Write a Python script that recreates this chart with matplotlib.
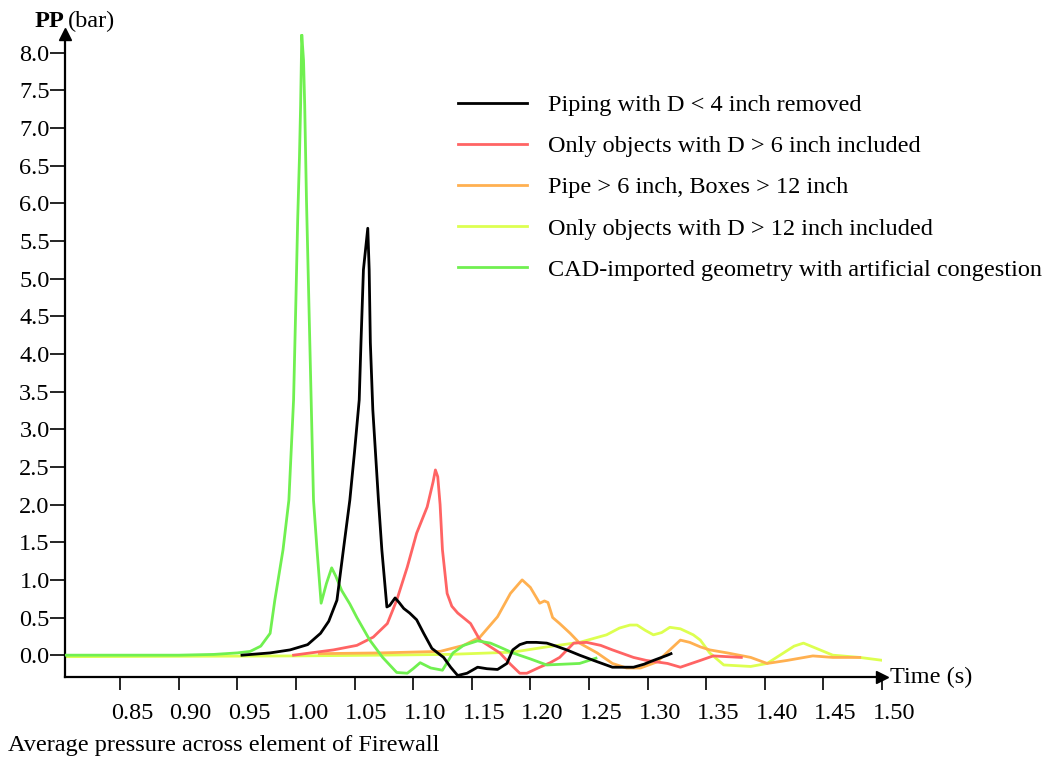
import matplotlib
matplotlib.use("Agg")
import matplotlib.pyplot as plt
from matplotlib.transforms import ScaledTranslation

plt.rcParams['font.family'] = ['Liberation Serif', 'DejaVu Serif']

# Piping with D < 4 inch removed
t_black = [0.954, 0.978, 0.995, 1.010, 1.021, 1.028, 1.035, 1.0405, 1.046, 1.050, 1.054, 1.0555,
           1.0576, 1.0613, 1.0625, 1.0635, 1.0656, 1.0704, 1.0733, 1.0776, 1.080, 1.0846, 1.088,
           1.092, 1.097, 1.103, 1.109, 1.116, 1.126, 1.132, 1.138, 1.146, 1.155, 1.163, 1.172,
           1.180, 1.185, 1.191, 1.197, 1.205, 1.214, 1.222, 1.231, 1.242, 1.254, 1.270, 1.288,
           1.297, 1.305, 1.317, 1.320]
p_black = [0.0, 0.03, 0.07, 0.14, 0.29, 0.45, 0.73, 1.4, 2.06, 2.7, 3.39, 4.15,
           5.12, 5.67, 5.12, 4.15, 3.26, 2.06, 1.4, 0.64, 0.66, 0.76, 0.7,
           0.62, 0.56, 0.47, 0.29, 0.09, -0.03, -0.16, -0.27, -0.24, -0.16, -0.18, -0.19,
           -0.11, 0.07, 0.14, 0.17, 0.17, 0.16, 0.12, 0.07, 0.0, -0.07, -0.16, -0.16,
           -0.12, -0.07, 0.0, 0.02]

# Only objects with D > 6 inch included
t_red = [0.998, 1.032, 1.052, 1.066, 1.078, 1.086, 1.095, 1.103, 1.112, 1.117, 1.119, 1.121,
         1.123, 1.125, 1.129, 1.133, 1.138, 1.149, 1.157, 1.165, 1.174, 1.183, 1.191, 1.197,
         1.208, 1.217, 1.225, 1.237, 1.248, 1.260, 1.270, 1.288, 1.299, 1.317, 1.328, 1.345,
         1.356, 1.368, 1.380]
p_red = [0.0, 0.07, 0.13, 0.24, 0.42, 0.73, 1.17, 1.62, 1.97, 2.3, 2.46, 2.37,
         2.0, 1.4, 0.82, 0.65, 0.56, 0.42, 0.2, 0.12, 0.03, -0.12, -0.24, -0.24,
         -0.16, -0.1, -0.03, 0.16, 0.17, 0.13, 0.07, -0.03, -0.07, -0.11, -0.16, -0.07,
         -0.01, -0.02, -0.03]

# Pipe > 6 inch, Boxes > 12 inch
t_orange = [1.02, 1.072, 1.123, 1.143, 1.157, 1.172, 1.183, 1.193, 1.200, 1.208, 1.212, 1.215,
            1.219, 1.225, 1.234, 1.242, 1.257, 1.270, 1.282, 1.294, 1.308, 1.319, 1.328, 1.336,
            1.345, 1.353, 1.368, 1.388, 1.402, 1.419, 1.441, 1.458, 1.481]
p_orange = [0.02, 0.03, 0.05, 0.13, 0.24, 0.51, 0.82, 1.0, 0.9, 0.69, 0.72, 0.7,
            0.5, 0.42, 0.29, 0.16, 0.03, -0.11, -0.17, -0.17, -0.09, 0.07, 0.2, 0.17,
            0.11, 0.07, 0.03, -0.03, -0.11, -0.07, -0.01, -0.03, -0.03]

# Only objects with D > 12 inch included
t_yellow = [0.803, 1.0, 1.072, 1.13, 1.185, 1.214, 1.242, 1.265, 1.276, 1.285, 1.291, 1.298,
            1.305, 1.312, 1.319, 1.328, 1.339, 1.345, 1.353, 1.365, 1.388, 1.402, 1.416, 1.425,
            1.433, 1.444, 1.458, 1.481, 1.501]
p_yellow = [-0.02, -0.01, 0.0, 0.01, 0.04, 0.11, 0.17, 0.27, 0.36, 0.4, 0.4, 0.33,
            0.27, 0.3, 0.37, 0.35, 0.27, 0.2, 0.03, -0.13, -0.15, -0.11, 0.03, 0.12,
            0.16, 0.09, 0.0, -0.03, -0.07]

# CAD-imported geometry with artificial congestion
t_green = [0.803, 0.90, 0.93, 0.95, 0.961, 0.970, 0.978, 0.982, 0.989, 0.994, 0.998, 1.000,
           1.0015, 1.003, 1.004, 1.005, 1.0065, 1.0075, 1.009, 1.011, 1.013, 1.015, 1.018,
           1.0215, 1.026, 1.0305, 1.034, 1.039, 1.046, 1.052, 1.063, 1.074, 1.080, 1.086,
           1.095, 1.100, 1.106, 1.115, 1.125, 1.134, 1.143, 1.155, 1.166, 1.175, 1.185,
           1.200, 1.214, 1.228, 1.242, 1.256]
p_green = [0.0, 0.0, 0.01, 0.03, 0.05, 0.12, 0.29, 0.73, 1.4, 2.06, 3.39, 4.72,
           5.78, 6.6, 7.3, 8.24, 7.9, 7.3, 6.05, 4.72, 3.39, 2.06, 1.4,
           0.69, 0.95, 1.16, 1.05, 0.86, 0.68, 0.5, 0.2, -0.03, -0.13, -0.23,
           -0.24, -0.18, -0.1, -0.17, -0.2, 0.03, 0.13, 0.19, 0.16, 0.1, 0.03,
           -0.05, -0.13, -0.12, -0.11, -0.04]

labels = ["Piping with D < 4 inch removed",
          "Only objects with D > 6 inch included",
          "Pipe > 6 inch, Boxes > 12 inch",
          "Only objects with D > 12 inch included",
          "CAD-imported geometry with artificial congestion"]
colors = ["#000000", "#ff6464", "#ffb050", "#ddff50", "#70f050"]
x_ticks = [0.85, 0.90, 0.95, 1.00, 1.05, 1.10, 1.15, 1.20, 1.25, 1.30, 1.35, 1.40, 1.45, 1.50]
y_ticks = [0.0, 0.5, 1.0, 1.5, 2.0, 2.5, 3.0, 3.5, 4.0, 4.5, 5.0, 5.5, 6.0, 6.5, 7.0, 7.5, 8.0]

FS = 17.5

fig = plt.figure(figsize=(10.49, 7.6), dpi=100)
ax = fig.add_axes([65 / 1049, 1 - 677 / 760, (882 - 65) / 1049, (677 - 34) / 760])

series = [(t_black, p_black), (t_red, p_red), (t_orange, p_orange),
          (t_yellow, p_yellow), (t_green, p_green)]
zorders = [6, 4, 3, 2, 5]
for (t, p), lab, c, z in zip(series, labels, colors, zorders):
    ax.plot(t, p, color=c, lw=2.0, label=lab, zorder=z)

ax.set_xlim(0.803, 1.50)
ax.set_ylim(-0.29, 8.25)
ax.set_xticks(x_ticks)
ax.set_xticklabels([f"{v:.2f}" for v in x_ticks])
ax.set_yticks(y_ticks)
ax.set_yticklabels([f"{v:.1f}" for v in y_ticks])

for s in ["top", "right"]:
    ax.spines[s].set_visible(False)
for s in ["left", "bottom"]:
    ax.spines[s].set_linewidth(1.6)

ax.tick_params(axis="y", direction="out", length=11, width=1.2, pad=0, labelsize=FS)
ax.tick_params(axis="x", direction="out", length=9.5, width=1.2, pad=9, labelsize=FS)
off = ScaledTranslation(12 / 100, 0, fig.dpi_scale_trans)
for lbl in ax.get_xticklabels():
    lbl.set_transform(lbl.get_transform() + off)

# axis arrows
ax.plot(1, 0, ">k", ms=8, transform=ax.transAxes, clip_on=False)
ax.plot(0, 1, "^k", ms=8, transform=ax.transAxes, clip_on=False)

fig.text(890 / 1049, 1 - 677 / 760, "Time (s)", fontsize=FS, va="center", ha="left")
fig.text(35 / 1049, 1 - 27 / 760, "PP", fontsize=FS, weight="bold", va="baseline", ha="left")
fig.text(68 / 1049, 1 - 27 / 760, "(bar)", fontsize=FS, va="baseline", ha="left")
fig.text(8 / 1049, 1 - 745 / 760, "Average pressure across element of Firewall",
         fontsize=FS, va="center", ha="left")

ax.legend(loc="upper left", bbox_to_anchor=(458 / 1049, 1 - 94 / 760),
          bbox_transform=fig.transFigure, frameon=False, fontsize=FS,
          handlelength=2.85, handletextpad=0.86, labelspacing=0.79,
          borderpad=0, borderaxespad=0)

fig.savefig("out.png", dpi=100)
